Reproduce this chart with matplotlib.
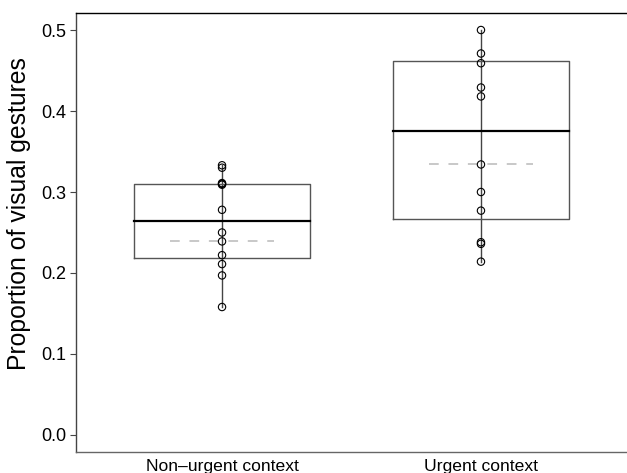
import matplotlib
matplotlib.use("Agg")
import matplotlib.pyplot as plt

plt.rcParams['font.family'] = ['Liberation Sans', 'DejaVu Sans']

# data
categories = ["Non\u2013urgent context", "Urgent context"]
non_urgent = [0.333, 0.330, 0.311, 0.310, 0.309, 0.278, 0.250, 0.239,
              0.222, 0.211, 0.197, 0.158]
urgent = [0.500, 0.471, 0.459, 0.429, 0.418, 0.334, 0.300, 0.277,
          0.238, 0.236, 0.214]
box_low = [0.219, 0.267]
box_median = [0.264, 0.375]
box_high = [0.3095, 0.462]
means = [0.240, 0.335]
y_ticks = [0.0, 0.1, 0.2, 0.3, 0.4, 0.5]

fig = plt.figure(figsize=(6.27, 4.73), dpi=100)
ax = fig.add_axes([76 / 627, 21 / 473, 1 - 76 / 627, (452 - 13) / 473])

groups = [non_urgent, urgent]
half_w = 0.34
for i, vals in enumerate(groups):
    x = i + 1
    # whisker through the full range
    ax.plot([x, x], [min(vals), max(vals)], color="#444444", lw=1.0, zorder=2)
    # box
    ax.plot([x - half_w, x + half_w, x + half_w, x - half_w, x - half_w],
            [box_low[i], box_low[i], box_high[i], box_high[i], box_low[i]],
            color="#555555", lw=1.0, zorder=2)
    ax.plot([x - half_w, x + half_w], [box_median[i]] * 2,
            color="black", lw=1.6, zorder=3)
    # mean
    ax.plot([x - 0.2, x + 0.2], [means[i]] * 2, color="#c8c8c8", lw=1.4,
            dashes=(5, 5), zorder=1)
    ax.scatter([x] * len(vals), vals, s=28, facecolors="none",
               edgecolors="black", linewidths=0.8, zorder=4)

ax.set_xlim(0.436, 2.564)
ax.set_ylim(-0.021, 0.521)
ax.set_xticks([1, 2])
ax.set_xticklabels(categories, fontsize=12.6)
ax.set_yticks(y_ticks)
ax.set_yticklabels([f"{t:.1f}" for t in y_ticks], fontsize=13)
ax.tick_params(axis="x", length=0, pad=5)
ax.tick_params(axis="y", length=4, width=0.8, color="#444444", pad=3)
ax.set_ylabel("Proportion of visual gestures", fontsize=17.8, labelpad=7,
              y=0.543)

ax.spines["right"].set_visible(False)
for s in ["left", "top", "bottom"]:
    ax.spines[s].set_linewidth(1.0)
ax.spines["left"].set_color("#444444")
ax.spines["bottom"].set_color("#666666")
ax.spines["top"].set_color("black")

fig.savefig("out.png", dpi=100)
